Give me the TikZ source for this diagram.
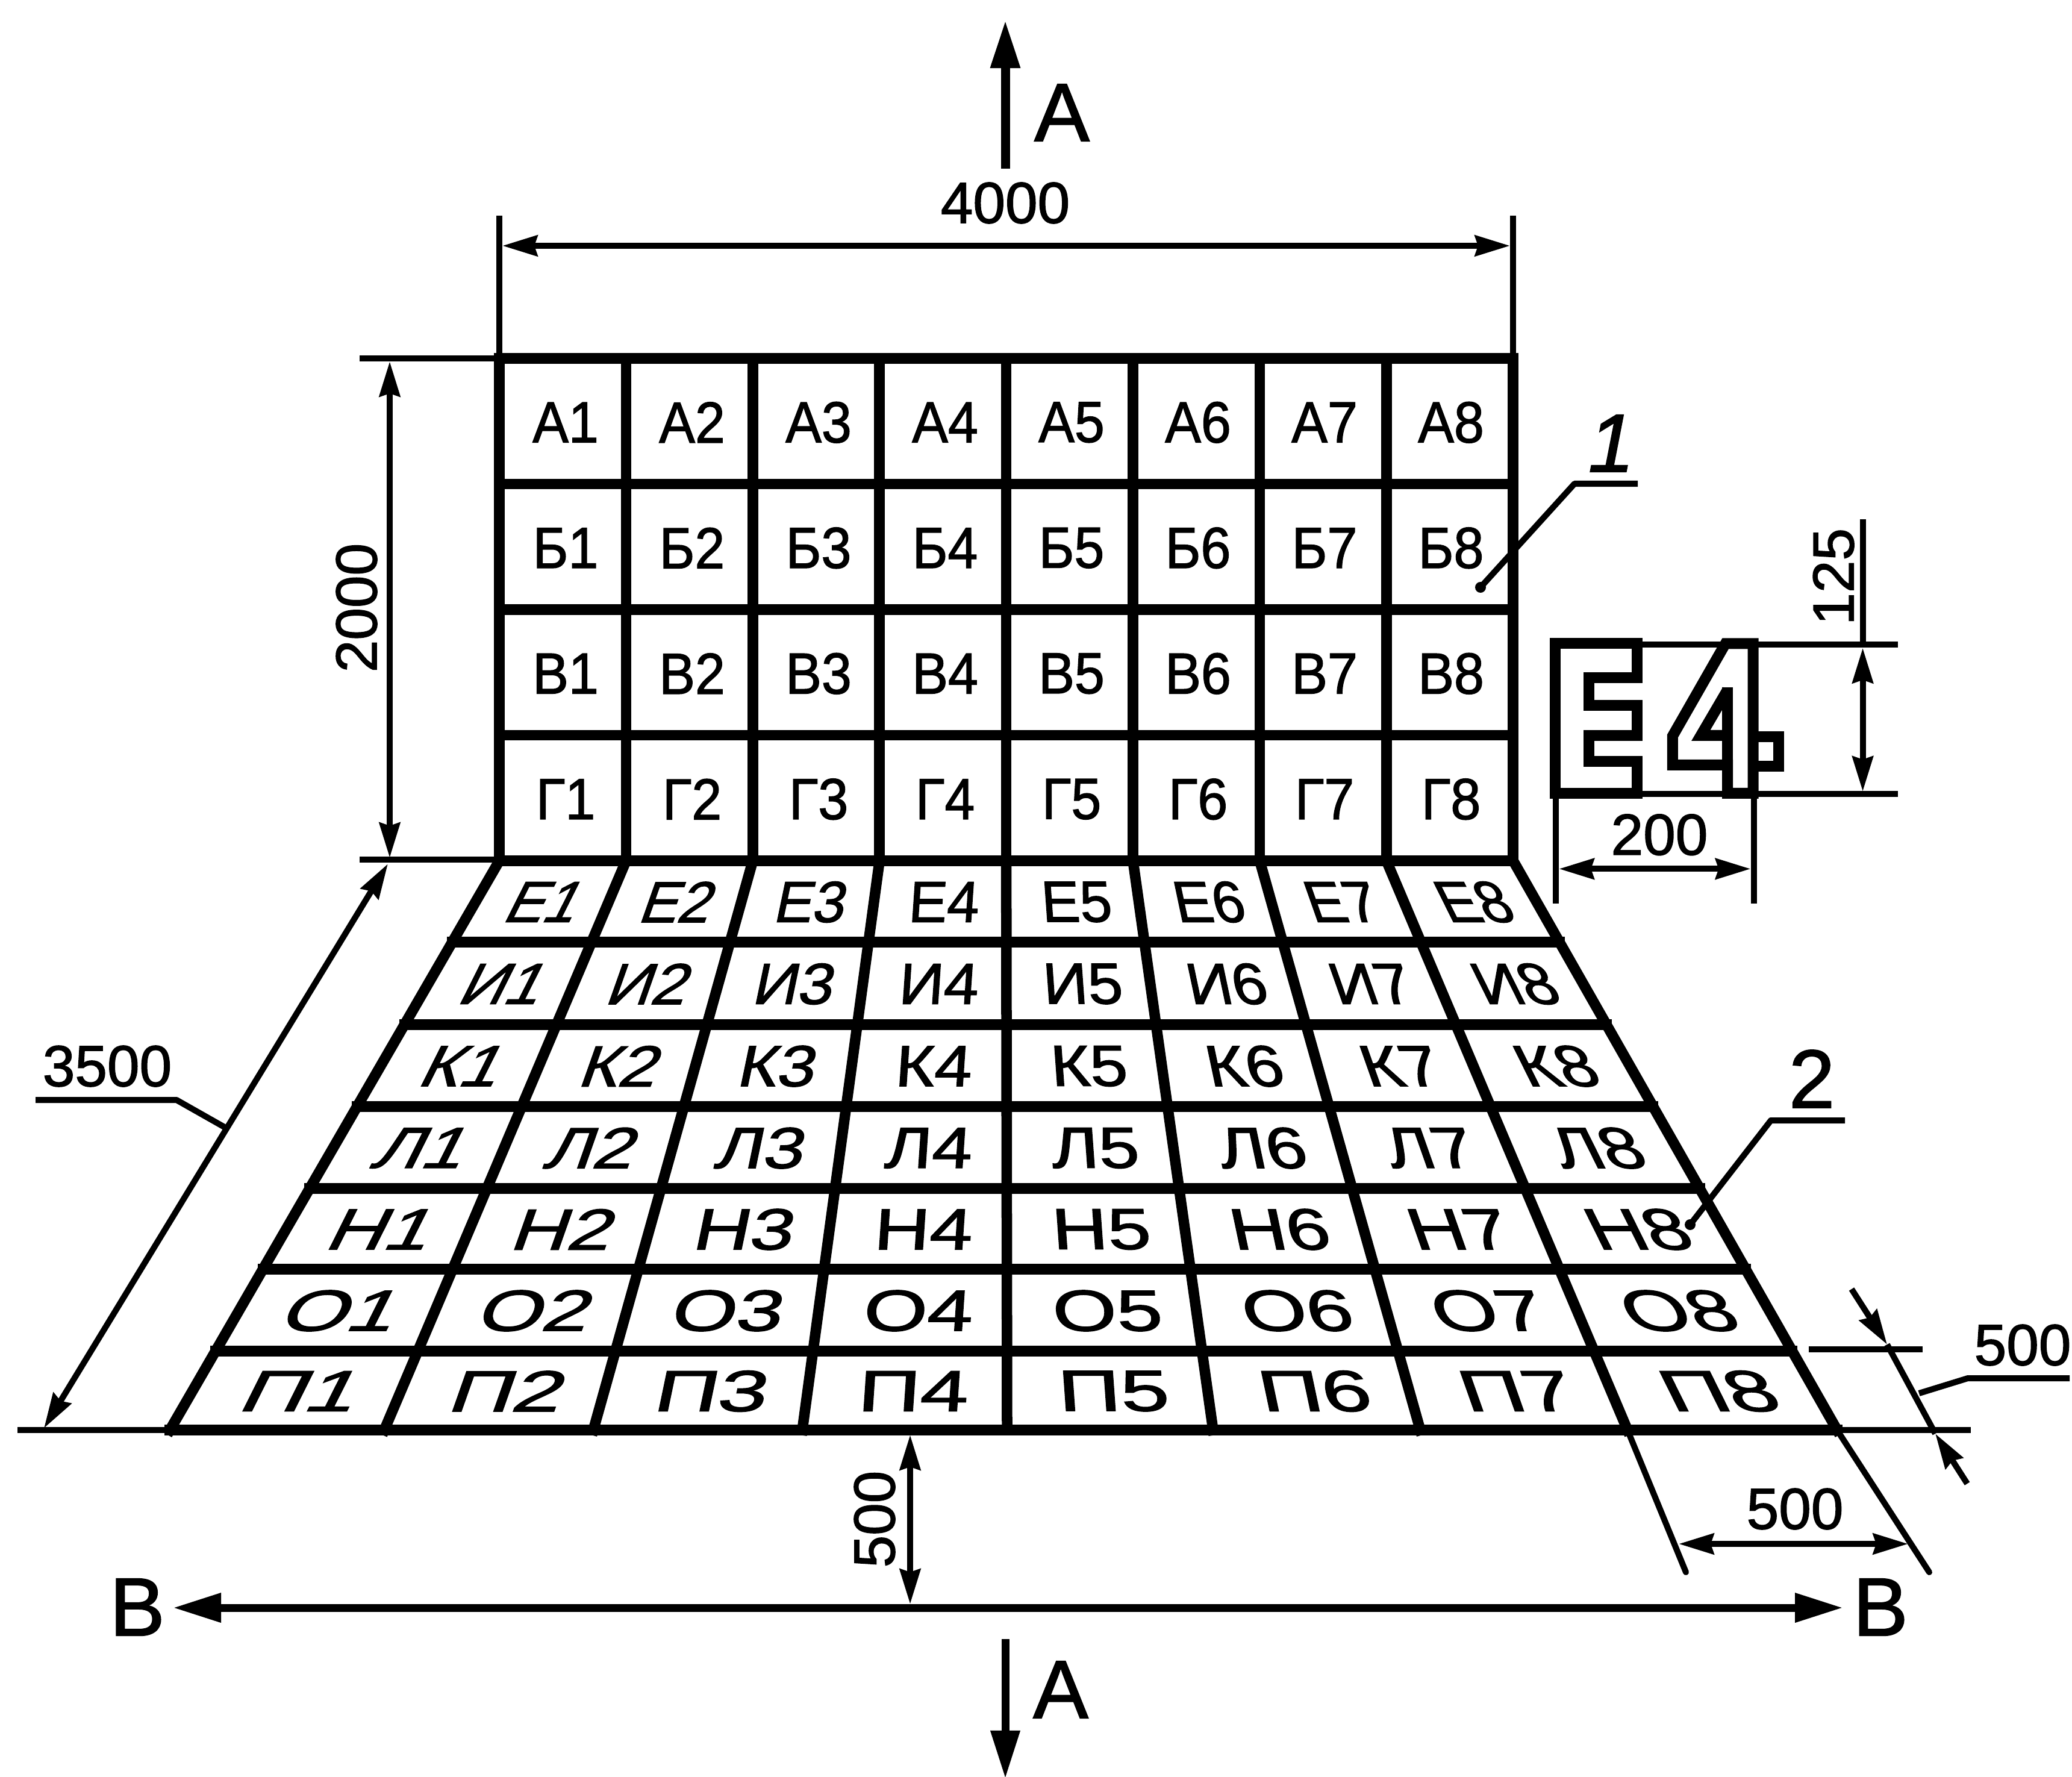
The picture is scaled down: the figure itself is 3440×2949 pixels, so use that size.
\documentclass[tikz,border=0pt]{standalone}
\usepackage{fontspec}
\setmainfont{Liberation Sans}[FakeBold=1.5]
\usetikzlibrary{arrows.meta}
\tikzset{
  heavy/.style={line width=1.75mm,line cap=rect,line join=miter,black},
  glyphline/.style={line width=1.8mm,line join=miter,black},
  thinl/.style={line width=1mm,black},
  dimline/.style={thinl,{Stealth[length=5.8mm,width=3.4mm,inset=0.5mm]}-{Stealth[length=5.8mm,width=3.4mm,inset=0.5mm]}},
  sectline/.style={line width=1.5mm,black,-{Triangle[length=8mm,width=4.6mm]}},
  lbl/.style={inner sep=0pt,font=\fontsize{27.4}{30}\selectfont},
  big/.style={inner sep=0pt,font=\fontsize{39}{42}\selectfont},
  bigit/.style={inner sep=0pt,font=\fontsize{39}{42}\selectfont\itshape},
}
\def\xbarr{{282,638,985,1332,1672,2014,2358,2702,3050}}
\def\yrow{{1429,1564,1701,1837,1973,2107,2243,2374}}
\begin{document}
\begin{tikzpicture}[x=0.01cm,y=-0.01cm]
\useasboundingbox (0,0) rectangle (3440,2949);
\fill[white] (0,0) rectangle (3440,2949);
% wall grid
\foreach \c in {0,...,8}{
  \pgfmathsetmacro\xt{829+210.4*\c}
  \draw[heavy] (\xt,595) -- (\xt,1429);
}
\foreach \r in {0,...,4}{
  \pgfmathsetmacro\yy{595+208.5*\r}
  \draw[heavy] (829,\yy) -- (2512,\yy);
}
\foreach \L [count=\r from 0] in {А,Б,В,Г}{
  \foreach \c in {0,...,7}{
    \pgfmathsetmacro\xx{829+210*(\c+.5)+5}
    \pgfmathsetmacro\yy{595+208.5*(\r+.5)+2}
    \pgfmathtruncatemacro\n{\c+1}
    \node[lbl,xscale=.93] (w\r\c) at (\xx,\yy) {\L\n};
  }
}
% floor grid
\foreach \c in {0,...,8}{
  \pgfmathsetmacro\xt{829+210.4*\c}
  \pgfmathsetmacro\xb{\xbarr[\c]}
  \draw[heavy] (\xt,1429) -- (\xb,2374);
}
\foreach \r in {0,...,7}{
  \pgfmathsetmacro\yy{\yrow[\r]}
  \pgfmathsetmacro\t{(\yy-1429)/945}
  \pgfmathsetmacro\xl{829+(282-829)*\t}
  \pgfmathsetmacro\xr{2512+(3050-2512)*\t}
  \draw[heavy] (\xl,\yy) -- (\xr,\yy);
}
\foreach \L [count=\r from 0] in {Е,И,К,Л,Н,О,П}{
  \foreach \c in {0,...,7}{
    \pgfmathtruncatemacro\q{\r+1}
    \pgfmathsetmacro\ya{\yrow[\r]}
    \pgfmathsetmacro\yb{\yrow[\q]}
    \pgfmathsetmacro\yy{(\ya+\yb)/2}
    \pgfmathsetmacro\t{(\yy-1429)/945}
    \pgfmathtruncatemacro\d{\c+1}
    \pgfmathsetmacro\xtl{829+210.4*\c}
    \pgfmathsetmacro\xtr{\xtl+210.4}
    \pgfmathsetmacro\xbl{\xbarr[\c]}
    \pgfmathsetmacro\xbr{\xbarr[\d]}
    \pgfmathsetmacro\ww{(1-\t)*210.4+\t*(\xbr-\xbl)}
    \pgfmathsetmacro\xx{((1-\t)*(\xtl+\xtr)+\t*(\xbl+\xbr))/2+8*\ww/258}
    \pgfmathsetmacro\ss{(\xtl+\xtr-\xbl-\xbr)/2/945}
    \pgfmathsetmacro\sx{\ww/222}
    \pgfmathsetmacro\yt{\yy+1}
    \node[lbl,xslant=\ss,xscale=\sx] (f\r\c) at (\xx,\yt) {\L\d};
  }
}
% extension lines of floor and wall
\coordinate (gl) at (29,2374); \coordinate (gc) at (282,2374);
\coordinate (gd) at (3050,2374); \coordinate (gr) at (3272,2374);
\draw[thinl] (gl) -- (gc); \draw[thinl] (gd) -- (gr);
\coordinate (r7) at (3003,2240); \coordinate (r7e) at (3192,2240);
\draw[thinl] (r7) -- (r7e);
\coordinate (c7) at (2702,2374); \coordinate (c7e) at (2799,2610);
\coordinate (c8) at (3050,2374); \coordinate (c8e) at (3203,2610);
\draw[thinl,line cap=round] (c7) -- (c7e);
\draw[thinl,line cap=round] (c8) -- (c8e);
% 4000
\coordinate (d4a) at (829,358); \coordinate (d4ab) at (829,595);
\coordinate (d4b) at (2512,358); \coordinate (d4bb) at (2512,595);
\draw[thinl] (d4a) -- (d4ab); \draw[thinl] (d4b) -- (d4bb);
\coordinate (d4l) at (834,408); \coordinate (d4r) at (2507,408);
\draw[dimline] (d4l) -- (d4r);
\node[lbl] (t4000) at (1669,337) {4000};
% 2000
\coordinate (d2a) at (597,595); \coordinate (d2ab) at (829,595);
\coordinate (d2b) at (597,1427); \coordinate (d2bb) at (829,1427);
\draw[thinl] (d2a) -- (d2ab); \draw[thinl] (d2b) -- (d2bb);
\coordinate (d2t) at (647,600); \coordinate (d2d) at (647,1424);
\draw[dimline] (d2t) -- (d2d);
\node[lbl,rotate=90] (t2000) at (592,1009) {2000};
% 3500
\coordinate (d3t) at (644,1434); \coordinate (d3b) at (73,2371);
\draw[dimline] (d3t) -- (d3b);
\coordinate (l3a) at (376,1873); \coordinate (l3b) at (293,1826); \coordinate (l3c) at (59,1826);
\draw[thinl,line join=round] (l3a) -- (l3b) -- (l3c);
\node[lbl] (t3500) at (178,1770) {3500};
% section arrows
\coordinate (a1s) at (1669,280); \coordinate (a1e) at (1669,33);
\draw[sectline] (a1s) -- (a1e);
\node[big] (ta1) at (1763,187) {А};
\coordinate (a2s) at (1669,2721); \coordinate (a2e) at (1669,2953);
\draw[sectline,line width=1.3mm] (a2s) -- (a2e);
\node[big] (ta2) at (1761,2805) {А};
\coordinate (bl) at (287,2669); \coordinate (br) at (3060,2669);
\draw[line width=1.3mm,{Triangle[length=8mm,width=4.6mm]}-{Triangle[length=8mm,width=4.6mm]}] (bl) -- (br);
\node[big] (tb1) at (228,2668) {В};
\node[big] (tb2) at (3122,2668) {В};
% 500 vertical
\coordinate (v5t) at (1511,2382); \coordinate (v5b) at (1511,2663);
\draw[dimline] (v5t) -- (v5b);
\node[lbl,rotate=90] (t500v) at (1452,2522) {500};
% 500 bottom right
\coordinate (h5l) at (2787,2563); \coordinate (h5r) at (3168,2563);
\draw[dimline] (h5l) -- (h5r);
\node[lbl] (t500h) at (2980,2505) {500};
% 500 oblique
\coordinate (o1) at (3074,2140); \coordinate (o1t) at (3133,2232);
\coordinate (o2) at (3266,2463); \coordinate (o2t) at (3213,2380);
\draw[thinl] (o1t) -- (o2t);
\draw[thinl,-{Stealth[length=5.8mm,width=3.4mm,inset=0.5mm]}] (o1) -- (o1t);
\draw[thinl,-{Stealth[length=5.8mm,width=3.4mm,inset=0.5mm]}] (o2) -- (o2t);
\coordinate (lo1) at (3186,2313); \coordinate (lo2) at (3267,2288); \coordinate (lo3) at (3436,2288);
\draw[thinl,line join=round] (lo1) -- (lo2) -- (lo3);
\node[lbl] (t500o) at (3358,2233) {500};
% references
\coordinate (p1) at (2458,975); \coordinate (p1a) at (2614,803); \coordinate (p1b) at (2719,803);
\draw[thinl,line join=round] (p1) -- (p1a) -- (p1b);
\fill (p1) circle (9);
\node[bigit] (t1) at (2675,736) {1};
\coordinate (p2) at (2806,2033); \coordinate (p2a) at (2940,1860); \coordinate (p2b) at (3063,1860);
\draw[thinl,line join=round] (p2) -- (p2a) -- (p2b);
\fill (p2) circle (9);
\node[big] (t2) at (3008,1791) {2};
% E4 sample, coordinates read from an enlargement
\begin{scope}[shift={(2500,800)},x=0.0051020cm,y=-0.0047847cm]
  \draw[glyphline] (160,560) -- (428,560) -- (428,677) -- (271,677) -- (271,773) -- (428,773)
     -- (428,878) -- (271,878) -- (271,967) -- (428,967) -- (428,1078) -- (160,1078) -- cycle;
  \draw[glyphline] (805,560) -- (715,560) -- (543,880) -- (543,980) -- (722,980) -- (722,1078) -- (805,1078) -- cycle;
  \draw[glyphline] (722,980) -- (722,712);
  \draw[glyphline] (722,720) -- (635,878) -- (722,878);
  \draw[glyphline] (805,883) -- (888,883) -- (888,985) -- (805,985);
  \coordinate (e1) at (445,563); \coordinate (e2) at (710,563);
  \coordinate (e3) at (822,563); \coordinate (e4) at (1277,563);
  \coordinate (e5) at (445,1081); \coordinate (e6) at (705,1081);
  \coordinate (e7) at (822,1081); \coordinate (e8) at (1277,1081);
  \draw[thinl] (e1) -- (e2); \draw[thinl] (e3) -- (e4);
  \draw[thinl] (e5) -- (e6); \draw[thinl] (e7) -- (e8);
  \coordinate (vl) at (163,1097); \coordinate (vle) at (163,1460);
  \coordinate (vr) at (807,1097); \coordinate (vre) at (807,1460);
  \draw[thinl] (vl) -- (vle); \draw[thinl] (vr) -- (vre);
  \coordinate (dl) at (173,1340); \coordinate (dr) at (797,1340);
  \draw[dimline] (dl) -- (dr);
  \node[lbl] (t200) at (500,1222) {200};
  \coordinate (ht) at (1162,130); \coordinate (hm) at (1162,563);
  \draw[thinl] (ht) -- (hm);
  \coordinate (du) at (1162,575); \coordinate (dd) at (1162,1072);
  \draw[dimline] (du) -- (dd);
  \node[lbl,rotate=90] (t125) at (1067,328) {125};
\end{scope}
\end{tikzpicture}
\end{document}
